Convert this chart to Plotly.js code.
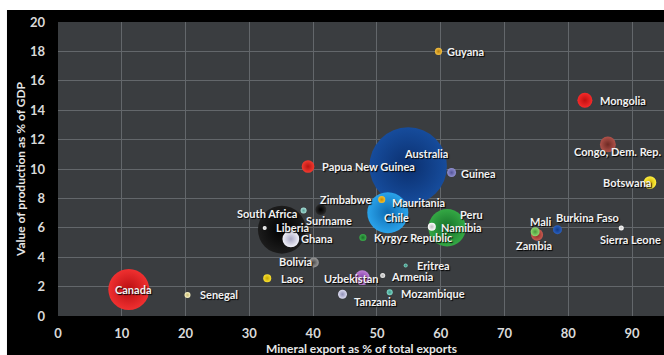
<!DOCTYPE html>
<html>
<head>
<meta charset="utf-8">
<script src="https://cdn.plot.ly/plotly-3.0.1.min.js"></script>
<style>html,body{margin:0;padding:0;background:#fff;}#chart{width:664px;height:355px;}</style>
</head>
<body>
<div id="chart"></div>
<script>
// ---- data ----
var countries = ["Australia","South Africa","","Suriname","Liberia","Ghana","Mauritania","Chile","Zimbabwe",
  "Canada","Senegal","Laos","Bolivia","Papua New Guinea","Guinea","Guyana","Peru","Namibia","Kyrgyz Republic",
  "Uzbekistan","Armenia","Eritrea","Tanzania","Mozambique","Zambia","Mali","Burkina Faso","Sierra Leone",
  "Mongolia","Congo, Dem. Rep.","Botswana"];
var mineralExportPct = [54.9,35.1,38.5,41.2,32.4,36.5,51.5,51.7,50.75,
  11.1,20.3,32.8,40.1,39.2,61.7,59.65,61.0,58.6,47.8,
  47.7,50.9,54.5,44.6,52.0,75.1,74.8,78.3,88.3,
  82.6,86.2,92.8];
var productionPctGDP = [10.2,5.87,7.17,7.24,5.99,5.24,7.75,7.03,7.92,
  1.8,1.43,2.57,3.64,10.17,9.76,18.0,6.0,6.07,5.34,
  2.61,2.75,3.43,1.48,1.62,5.53,5.73,5.87,5.99,
  14.68,11.67,9.08];
var productionValue = [60,23,0.36,1.2,0.16,2.8,0.36,16.8,0.5,
  16.8,0.36,0.64,1.0,1.6,0.8,0.5,14,0.64,0.5,
  2.2,0.25,0.16,0.8,0.36,1.44,0.8,0.8,0.25,
  2.25,2.5,1.6];
var xTicks = [0,10,20,30,40,50,60,70,80,90];
var yTicks = [0,2,4,6,8,10,12,14,16,18,20];

// ---- styles ----
var centerColors = ["#164c9c","#1c1c1c","#a8e0d8","#2a2a2a","#ffffff","#f2f2fa","#2aa0e8","#2aa3ea","#f5c030",
  "#f03030","#fbf6c8","#f8e030","#9a9a9a","#f23a30","#9090d0","#f5c040","#34a844","#ffffff","#3aae4a",
  "#c080d8","#f0f0f0","#80d0c0","#dcdcf0","#80d8c8","#c85a50","#90d870","#2a60c0","#ffffff",
  "#f52a2a","#b0524a","#fff040"];
var edgeColors = ["#0b2f6e","#000000","#5aa098","#000000","#cccccc","#a8a8c4","#0f6cb0","#0e6cb4","#c88a00",
  "#b80e12","#c8b870","#c8a800","#505050","#b81410","#54549a","#b88010","#17702a","#c0c0c0","#1a6e2a",
  "#8040a8","#b0b0b0","#3a9080","#9090b8","#3a9888","#8a2a24","#4a9a3a","#103a88","#cccccc",
  "#c01010","#6e2a24","#d0b000"];
var labelDX = [18,17,0,8,9,8,3,9,-9,
  4,11,12,0,12,7,6,11,7,9,
  -11,6,9,9,9,-3,6,-3,9,
  13,10,3];
var labelDY = [13,16,0,-11,0,0,0,-5,0,
  0,0,0,1,0,-1,0,13,-1,0,
  -1,-1,0,-7,-1,-11,10,12,-12,
  0,-7,0];
var labelAnchor = ["center","right","center","center","left","left","left","center","right",
  "center","left","left","right","left","left","left","left","left","left",
  "center","left","left","left","left","center","center","left","center",
  "left","center","right"];

var trace = {
  type: "scatter",
  mode: "markers",
  x: mineralExportPct,
  y: productionPctGDP,
  text: countries,
  hoverinfo: "text",
  marker: {
    size: productionValue,
    sizemode: "area",
    sizeref: 0.02,
    color: centerColors,
    gradient: {type: "radial", color: edgeColors},
    line: {width: 0},
    opacity: 1
  },
  cliponaxis: false
};

var annotations = countries.map(function (c, i) {
  return {
    x: mineralExportPct[i], y: productionPctGDP[i], xref: "x", yref: "y",
    text: c, showarrow: false,
    xanchor: labelAnchor[i], yanchor: "middle",
    xshift: labelDX[i], yshift: labelDY[i],
    font: {family: "Lato, 'Open Sans', sans-serif", size: 11, color: "#f2f2f2", weight: 700,
           shadow: "1px 1px 1px #000"}
  };
});
annotations.push({
  xref: "paper", yref: "paper", x: -0.0627, y: 0.5, textangle: -90,
  text: "Value of production as % of GDP", showarrow: false,
  xanchor: "center", yanchor: "middle",
  font: {family: "Lato, 'Open Sans', sans-serif", size: 12, color: "#e6e6e6", weight: 700}
});
annotations.push({
  xref: "paper", yref: "paper", x: 0.5, y: -0.111,
  text: "Mineral export as % of total exports", showarrow: false,
  xanchor: "center", yanchor: "middle",
  font: {family: "Lato, 'Open Sans', sans-serif", size: 12, color: "#e6e6e6", weight: 700}
});

var layout = {
  width: 664, height: 355,
  margin: {l: 58, r: 0, t: 22, b: 39, pad: 0},
  paper_bgcolor: "#000000",
  plot_bgcolor: "#3a3d40",
  showlegend: false,
  font: {family: "Lato, 'Open Sans', sans-serif"},
  xaxis: {
    range: [0, 95], tickvals: xTicks, ticktext: xTicks.map(String),
    showgrid: true, gridcolor: "#63676b", gridwidth: 1,
    zeroline: false, showline: false, ticks: "", ticklabelstandoff: 8,
    tickfont: {size: 13, color: "#d9d9d9", weight: 700}
  },
  yaxis: {
    range: [0, 20], tickvals: yTicks, ticktext: yTicks.map(String),
    showgrid: true, gridcolor: "#63676b", gridwidth: 1,
    zeroline: false, showline: false, ticks: "", ticklabelstandoff: 12,
    tickfont: {size: 13, color: "#d9d9d9", weight: 700}
  },
  annotations: annotations,
  shapes: [
    {type: "rect", xref: "paper", yref: "paper", x0: -0.1, x1: 1.01, y0: 1.041, y1: 1.1,
     fillcolor: "#ffffff", line: {width: 0}, layer: "above"},
    {type: "rect", xref: "paper", yref: "paper", x0: -0.1, x1: -0.0842, y0: -0.2, y1: 1.1,
     fillcolor: "#ffffff", line: {width: 0}, layer: "above"}
  ]
};

Plotly.newPlot("chart", [trace], layout, {displayModeBar: false, staticPlot: true});
</script>
</body>
</html>
